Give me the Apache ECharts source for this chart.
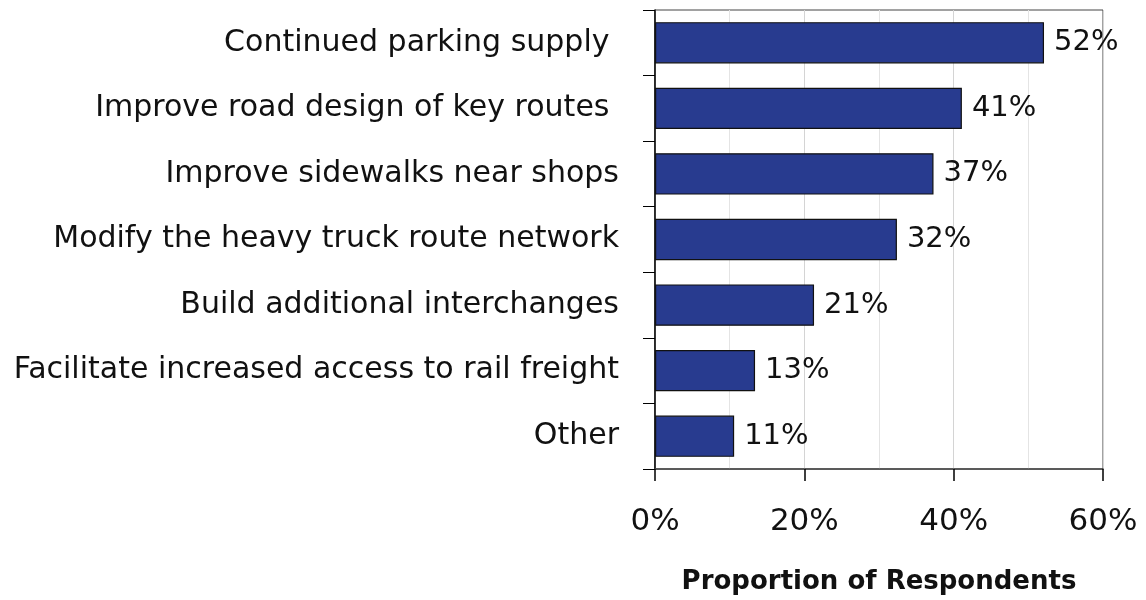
<!DOCTYPE html>
<html>
<head>
<meta charset="utf-8">
<script src="https://cdn.jsdelivr.net/npm/echarts@6/dist/echarts.min.js"></script>
<style>
  html, body { margin: 0; padding: 0; background: #fff; }
  #chart { width: 1146px; height: 600px; }
</style>
</head>
<body>
<div id="chart"></div>
<script>
// categories top to bottom
const categories = [
  "Continued parking supply ",
  "Improve road design of key routes ",
  "Improve sidewalks near shops",
  "Modify the heavy truck route network",
  "Build additional interchanges",
  "Facilitate increased access to rail freight",
  "Other"
]
// bar lengths (%)
const shares = [52.1, 41.1, 37.3, 32.4, 21.3, 13.4, 10.6]
// printed labels
const shareLabels = ["52%", "41%", "37%", "32%", "21%", "13%", "11%"]
const tickValues = [0, 20, 40, 60]

const font = "DejaVu Sans, Liberation Sans, Arial, sans-serif"

const chart = echarts.init(document.getElementById("chart"))

const option = {
  animation: false,
  textStyle: { fontFamily: font },
  grid: {
    left: 655,
    right: 43,
    top: 10,
    bottom: 129,
    show: true,
    borderColor: "#444",
    borderWidth: 1
  },
  xAxis: {
    type: "value",
    min: tickValues[0],
    max: tickValues[tickValues.length - 1],
    interval: 20,
    name: "Proportion of Respondents",
    nameLocation: "middle",
    nameGap: 100,
    nameTextStyle: { fontSize: 26, fontWeight: "bold", color: "#111", fontFamily: font },
    axisLine: { show: true, lineStyle: { color: "#444", width: 1.5 } },
    axisTick: { show: true, length: 12, lineStyle: { color: "#000", width: 1.5 } },
    axisLabel: {
      margin: 37,
      fontSize: 31,
      color: "#111",
      formatter: (v) => v + "%"
    },
    splitLine: { show: true, lineStyle: { color: "#d4d4d4", width: 1 } },
    minorTick: { show: false, splitNumber: 2 },
    minorSplitLine: { show: true, lineStyle: { color: "#e4e4e4", width: 1 } }
  },
  yAxis: {
    type: "category",
    inverse: true,
    data: categories,
    axisLine: { show: true, lineStyle: { color: "#000", width: 1.5 } },
    axisTick: { show: true, length: 12, lineStyle: { color: "#000", width: 1 } },
    axisLabel: { margin: 36, fontSize: 30, color: "#111" },
    splitLine: { show: false }
  },
  series: [
    {
      type: "bar",
      data: shares,
      barWidth: "63%",
      itemStyle: { color: "#283b8f", borderColor: "#111", borderWidth: 1.2 },
      label: {
        show: true,
        position: "right",
        distance: 10,
        fontSize: 29,
        color: "#111",
        formatter: (p) => shareLabels[p.dataIndex]
      }
    }
  ]
}

chart.setOption(option)
</script>
</body>
</html>
